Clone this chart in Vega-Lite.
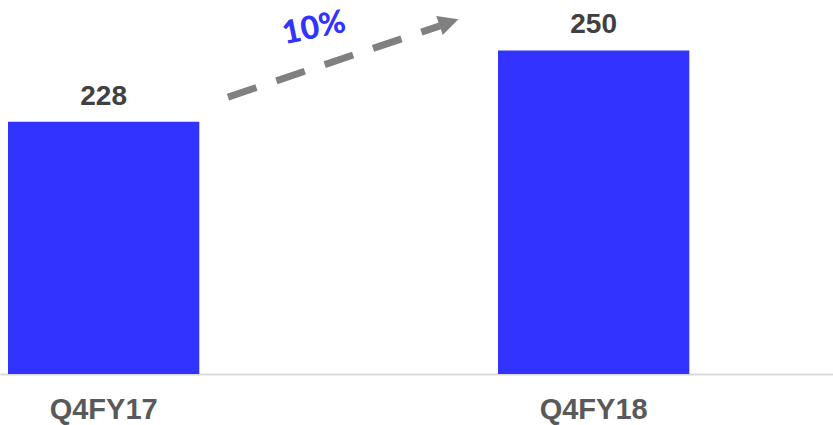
{
  "$schema": "https://vega.github.io/schema/vega-lite/v6.json",
  "width": 833,
  "height": 374,
  "autosize": "none",
  "padding": {"top": 0, "left": 0, "right": 0, "bottom": 51},
  "background": "white",
  "config": {"view": {"stroke": null}},
  "datasets": {
    "quarters": [
      {"quarter": "Q4FY17", "value": 228},
      {"quarter": "Q4FY18", "value": 250}
    ],
    "trend": [
      {"period": 0.2538, "level": 235.6},
      {"period": 0.6864, "level": 257.6}
    ],
    "trendHead": [
      {"period": 0.7048, "level": 258.7}
    ],
    "growth": [
      {"period": 0.4293, "level": 256.9, "label": "10%"}
    ]
  },
  "resolve": {"scale": {"x": "independent"}},
  "layer": [
    {
      "data": {"name": "quarters"},
      "encoding": {
        "x": {
          "field": "quarter",
          "type": "nominal",
          "sort": null,
          "scale": {"paddingInner": 0.6096, "paddingOuter": 0.1548, "align": 0.0527, "round": false},
          "axis": {
            "title": null,
            "labelAngle": 0,
            "labelFont": "Liberation Sans",
            "labelFontWeight": "bold",
            "labelFontSize": 29,
            "labelColor": "#595959",
            "labelPadding": 21,
            "labelDx": 3,
            "ticks": false,
            "domainColor": "#d9d9d9",
            "domainWidth": 2,
            "grid": false
          }
        },
        "y": {
          "field": "value",
          "type": "quantitative",
          "scale": {"domain": [150, 265.6], "zero": false, "nice": false},
          "axis": null
        }
      },
      "layer": [
        {
          "mark": {"type": "bar", "color": "#3333ff"},
          "encoding": {"y2": {"datum": 150}}
        },
        {
          "mark": {
            "type": "text",
            "font": "Liberation Sans",
            "fontWeight": "bold",
            "fontSize": 28,
            "color": "#404040",
            "align": "center",
            "baseline": "alphabetic",
            "dy": -17
          },
          "encoding": {"text": {"field": "value", "type": "quantitative"}}
        }
      ]
    },
    {
      "layer": [
        {
          "data": {"name": "trend"},
          "mark": {
            "type": "line",
            "color": "#808080",
            "strokeWidth": 7,
            "strokeDash": [30, 21],
            "strokeCap": "butt"
          },
          "encoding": {
            "x": {"field": "period", "type": "quantitative", "scale": {"domain": [-0.2115, 1.4885], "zero": false, "nice": false}, "axis": null},
            "y": {"field": "level", "type": "quantitative", "scale": {"domain": [150, 265.6], "zero": false, "nice": false}, "axis": null}
          }
        },
        {
          "data": {"name": "trendHead"},
          "mark": {
            "type": "point",
            "shape": "M-1,-1L1,0L-1,1Z",
            "size": 400,
            "filled": true,
            "opacity": 1,
            "color": "#808080",
            "angle": 341.4
          },
          "encoding": {
            "x": {"field": "period", "type": "quantitative", "scale": {"domain": [-0.2115, 1.4885], "zero": false, "nice": false}, "axis": null},
            "y": {"field": "level", "type": "quantitative", "scale": {"domain": [150, 265.6], "zero": false, "nice": false}, "axis": null}
          }
        },
        {
          "data": {"name": "growth"},
          "mark": {
            "type": "text",
            "font": "Lato",
            "fontWeight": 900,
            "fontSize": 32,
            "color": "#3333ff",
            "align": "center",
            "baseline": "middle",
            "angle": 348.4
          },
          "encoding": {
            "x": {"field": "period", "type": "quantitative", "scale": {"domain": [-0.2115, 1.4885], "zero": false, "nice": false}, "axis": null},
            "y": {"field": "level", "type": "quantitative", "scale": {"domain": [150, 265.6], "zero": false, "nice": false}, "axis": null},
            "text": {"field": "label", "type": "nominal"}
          }
        }
      ]
    }
  ]
}
